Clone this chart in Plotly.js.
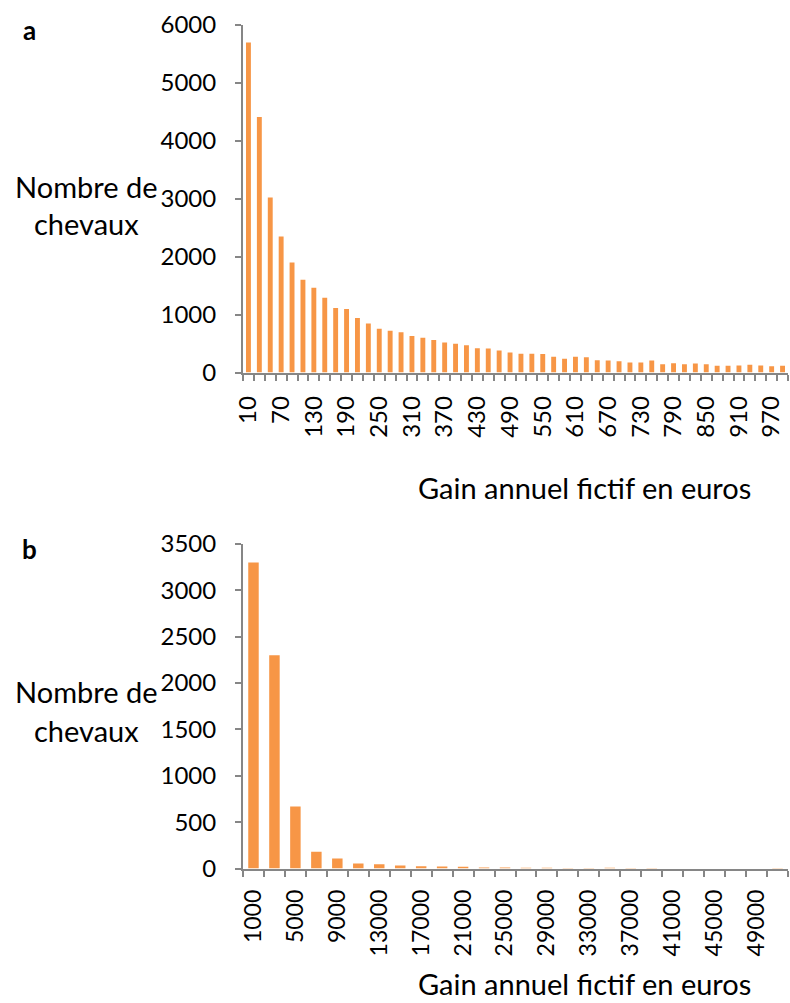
<!DOCTYPE html>
<html>
<head>
<meta charset="utf-8">
<script src="https://cdn.plot.ly/plotly-3.0.1.min.js"></script>
<style>html,body{margin:0;padding:0;background:#fff;}#chart{width:790px;height:1003px;}</style>
</head>
<body>
<div id="chart"></div>
<script>
// ---- Data ----
// Panel a: gain classes (euros), step 20
const gainA = [10,30,50,70,90,110,130,150,170,190,210,230,250,270,290,310,330,350,370,390,
  410,430,450,470,490,510,530,550,570,590,610,630,650,670,690,710,730,750,770,790,
  810,830,850,870,890,910,930,950,970,990];
const horsesA = [5700,4410,3020,2350,1900,1600,1465,1290,1115,1095,940,845,755,720,695,630,600,560,520,495,
  470,420,415,380,345,325,325,320,270,236,270,265,213,208,196,173,173,208,144,161,
  144,156,144,115,115,121,133,121,110,115];
const tickLabelsA = ["10","70","130","190","250","310","370","430","490","550","610","670","730","790","850","910","970"];

// Panel b: gain classes (euros), step 2000
const gainB = [1000,3000,5000,7000,9000,11000,13000,15000,17000,19000,21000,23000,25000,
  27000,29000,31000,33000,35000,37000,39000,41000,43000,45000,47000,49000,51000];
const horsesB = [3300,2300,670,180,108,55,47,32,25,21,18,12,11,
  9,8,6,6,8,5,5,1,1,1,1,1,5];
const tickLabelsB = ["1000","5000","9000","13000","17000","21000","25000","29000","33000","37000","41000","45000","49000"];

// ---- Layout helpers ----
const W = 790, H = 1003;
const M = {l: 243, r: 2, t: 0, b: 0};
const py = y => 1 - y / H;                        // pixel y -> paper y
const px = x => (x - M.l) / (W - M.l - M.r);      // pixel x -> paper x
const FONT = "Lato, 'Open Sans', sans-serif";
const AX = "#868686";
const ORANGE = "#F79646";

const traces = [
  {type: "bar", x: gainA, y: horsesA, xaxis: "x", yaxis: "y", width: 9,
   marker: {color: ORANGE}, hoverinfo: "x+y", showlegend: false},
  {type: "bar", x: gainB, y: horsesB, xaxis: "x2", yaxis: "y2", width: 1000,
   marker: {color: ORANGE}, hoverinfo: "x+y", showlegend: false}
];

const xCommon = {
  showline: true, linecolor: AX, linewidth: 2, zeroline: false, showgrid: false,
  ticks: "", tickangle: -90, ticklabelstandoff: 12,
  tickfont: {family: FONT, size: 24, color: "#000"}
};
const yCommon = {
  showline: true, linecolor: AX, linewidth: 2, zeroline: false, showgrid: false,
  ticks: "outside", ticklen: 6, tickwidth: 2, tickcolor: AX, ticklabelstandoff: 14,
  tickfont: {family: FONT, size: 24, color: "#000"}
};

const layout = {
  width: W, height: H,
  margin: M,
  paper_bgcolor: "#fff", plot_bgcolor: "#fff",
  showlegend: false,
  xaxis: Object.assign({}, xCommon, {
    anchor: "y", range: [0, 1000],
    tickmode: "array", tickvals: tickLabelsA.map(Number), ticktext: tickLabelsA,
    minor: {ticks: "outside", tick0: 0, dtick: 20, ticklen: 6, tickwidth: 2, tickcolor: AX, showgrid: false}
  }),
  yaxis: Object.assign({}, yCommon, {
    anchor: "x", domain: [py(372.5), py(25)], range: [0, 6000], dtick: 1000
  }),
  xaxis2: Object.assign({}, xCommon, {
    anchor: "y2", range: [0, 52000], ticklabelstandoff: 10,
    tickfont: {family: FONT, size: 23, color: "#000"},
    tickmode: "array", tickvals: tickLabelsB.map(Number), ticktext: tickLabelsB,
    minor: {ticks: "outside", tick0: 0, dtick: 2000, ticklen: 6, tickwidth: 2, tickcolor: AX, showgrid: false}
  }),
  yaxis2: Object.assign({}, yCommon, {
    anchor: "x2", domain: [py(868.5), py(544)], range: [0, 3500], dtick: 500
  }),
  annotations: [
    {text: "<b>a</b>", x: px(29), y: py(30), font: {size: 26}},
    {text: "<b>b</b>", x: px(29), y: py(549), font: {size: 26}},
    {text: "Nombre de", x: px(86), y: py(186)},
    {text: "chevaux", x: px(86), y: py(224)},
    {text: "Nombre de", x: px(86), y: py(691)},
    {text: "chevaux", x: px(86), y: py(730)},
    {text: "Gain annuel fictif en euros", x: px(584), y: py(488)},
    {text: "Gain annuel fictif en euros", x: px(584), y: 0, yanchor: "bottom"}
  ].map(a => Object.assign({
    xref: "paper", yref: "paper", xanchor: "center", yanchor: "middle", showarrow: false
  }, a, {font: {family: FONT, size: (a.font && a.font.size) || 29, color: "#000"}}))
};

Plotly.newPlot("chart", traces, layout, {displayModeBar: false, staticPlot: true});
</script>
</body>
</html>
